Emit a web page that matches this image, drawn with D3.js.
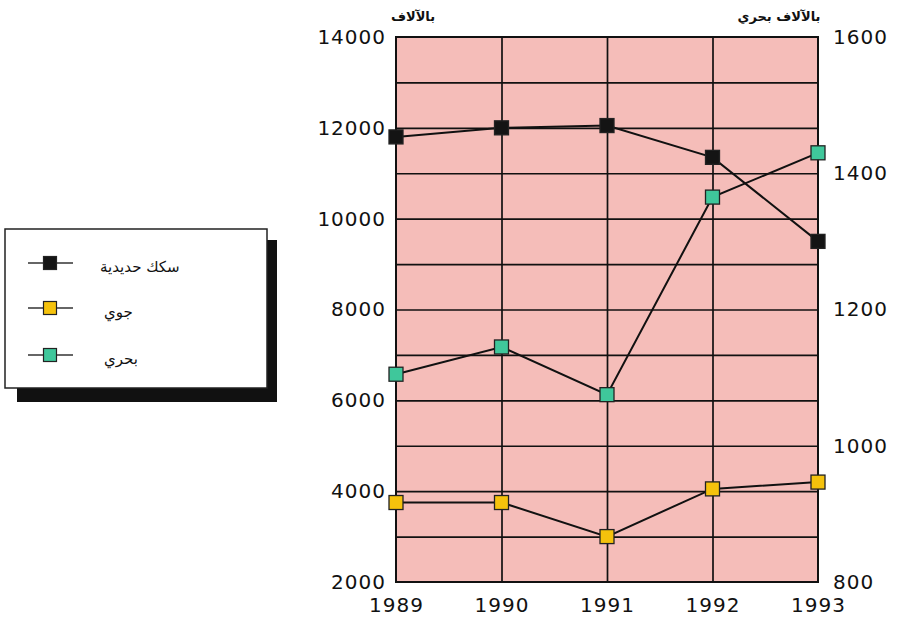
<!DOCTYPE html>
<html><head><meta charset="utf-8">
<script src="https://cdn.jsdelivr.net/npm/d3@7"></script>
<style>
html,body{margin:0;padding:0;background:#fff;}
svg{display:block;}
</style></head>
<body>
<svg id="chart" width="905" height="623"></svg>
<script>
const years = [1989, 1990, 1991, 1992, 1993];
const railValues = [11800, 12000, 12050, 11350, 9500];
const airValues = [3750, 3750, 3000, 4050, 4200];
const seaValues = [1105, 1145, 1075, 1365, 1430];
const leftTicks = [2000, 4000, 6000, 8000, 10000, 12000, 14000];
const gridTicks = [3000, 4000, 5000, 6000, 7000, 8000, 9000, 10000, 11000, 12000, 13000];
const rightTicks = [800, 1000, 1200, 1400, 1600];
const seriesNames = ["سكك حديدية", "جوي", "بحري"];
const leftTitle = "بالآلاف";
const rightTitle = "بالآلاف بحري";

const svg = d3.select("#chart");
const L = 396, R = 818, T = 37, B = 582;
const x = d3.scalePoint().domain(years).range([L, R]);
const yL = d3.scaleLinear().domain([2000, 14000]).range([B, T]);
const yR = d3.scaleLinear().domain([800, 1600]).range([B, T]);

const colors = {rail: "#141414", air: "#f5c20c", sea: "#3fc79b"};
const numFont = "'DejaVu Sans', sans-serif";

// plot background
svg.append("rect").attr("x", L).attr("y", T).attr("width", R - L).attr("height", B - T)
  .attr("fill", "#f5bdb9");

// horizontal grid
svg.append("g").attr("transform", `translate(${L},0)`)
  .call(d3.axisLeft(yL).tickValues(gridTicks).tickSize(-(R - L)).tickFormat(""))
  .call(g => g.select(".domain").remove())
  .call(g => g.selectAll("line").attr("stroke", "#111").attr("stroke-width", 1.7));

// vertical grid
svg.append("g").attr("transform", `translate(0,${B})`)
  .call(d3.axisBottom(x).tickValues(years.slice(1, -1)).tickSize(-(B - T)).tickFormat(""))
  .call(g => g.select(".domain").remove())
  .call(g => g.selectAll("line").attr("stroke", "#111").attr("stroke-width", 1.7));

// border
svg.append("rect").attr("x", L).attr("y", T).attr("width", R - L).attr("height", B - T)
  .attr("fill", "none").attr("stroke", "#111").attr("stroke-width", 2);

// left axis labels
svg.append("g").attr("transform", `translate(${L},0)`)
  .call(d3.axisLeft(yL).tickValues(leftTicks).tickSize(0).tickPadding(10).tickFormat(d3.format("d")))
  .call(g => g.select(".domain").remove())
  .call(g => g.selectAll("text").attr("font-family", numFont).attr("font-size", 20)
    .attr("letter-spacing", 1).attr("fill", "#111"));

// right axis labels
svg.append("g").attr("transform", `translate(${R},0)`)
  .call(d3.axisRight(yR).tickValues(rightTicks).tickSize(0).tickPadding(15).tickFormat(d3.format("d")))
  .call(g => g.select(".domain").remove())
  .call(g => g.selectAll("text").attr("font-family", numFont).attr("font-size", 20)
    .attr("letter-spacing", 1).attr("fill", "#111"));

// bottom axis labels
svg.append("g").attr("transform", `translate(0,${B})`)
  .call(d3.axisBottom(x).tickSize(0).tickPadding(16).tickFormat(d3.format("d")))
  .call(g => g.select(".domain").remove())
  .call(g => g.selectAll("text").attr("font-family", numFont).attr("font-size", 20)
    .attr("letter-spacing", 1).attr("fill", "#111"));

// titles
svg.append("text").attr("x", 413).attr("y", 21).attr("text-anchor", "middle")
  .attr("font-family", "'DejaVu Sans', sans-serif").attr("font-size", 13).attr("font-weight", "bold")
  .attr("fill", "#111").text(leftTitle);
svg.append("text").attr("x", 779).attr("y", 21).attr("text-anchor", "middle")
  .attr("font-family", "'DejaVu Sans', sans-serif").attr("font-size", 13).attr("font-weight", "bold")
  .attr("fill", "#111").text(rightTitle);

// series
const series = [
  {key: "rail", values: railValues, y: yL},
  {key: "air", values: airValues, y: yL},
  {key: "sea", values: seaValues, y: yR}
];
const ms = 14;
series.forEach(s => {
  const pts = years.map((yr, i) => [x(yr), s.y(s.values[i])]);
  svg.append("path").datum(pts)
    .attr("d", d3.line())
    .attr("fill", "none").attr("stroke", "#111").attr("stroke-width", 2);
  svg.append("g").selectAll("rect").data(pts).join("rect")
    .attr("x", d => d[0] - ms / 2).attr("y", d => d[1] - ms / 2)
    .attr("width", ms).attr("height", ms)
    .attr("fill", colors[s.key]).attr("stroke", "#222").attr("stroke-width", 1.3);
});

// legend
const lg = svg.append("g");
lg.append("rect").attr("x", 17).attr("y", 240).attr("width", 260).attr("height", 162).attr("fill", "#111");
lg.append("rect").attr("x", 5).attr("y", 229).attr("width", 262).attr("height", 159)
  .attr("fill", "#fff").attr("stroke", "#222").attr("stroke-width", 1.5);
const legY = [263, 308, 355];
series.forEach((s, i) => {
  lg.append("line").attr("x1", 28).attr("x2", 73).attr("y1", legY[i]).attr("y2", legY[i])
    .attr("stroke", "#333").attr("stroke-width", 1.5);
  lg.append("rect").attr("x", 50 - 6.5).attr("y", legY[i] - 6.5).attr("width", 13).attr("height", 13)
    .attr("fill", colors[s.key]).attr("stroke", "#222").attr("stroke-width", 1.2);
  lg.append("text").attr("x", i === 0 ? 100 : 104).attr("y", legY[i] + 9)
    .attr("font-family", "'DejaVu Sans', sans-serif").attr("font-size", 15)
    .attr("fill", "#111").text(seriesNames[i]);
});
</script>
</body></html>
